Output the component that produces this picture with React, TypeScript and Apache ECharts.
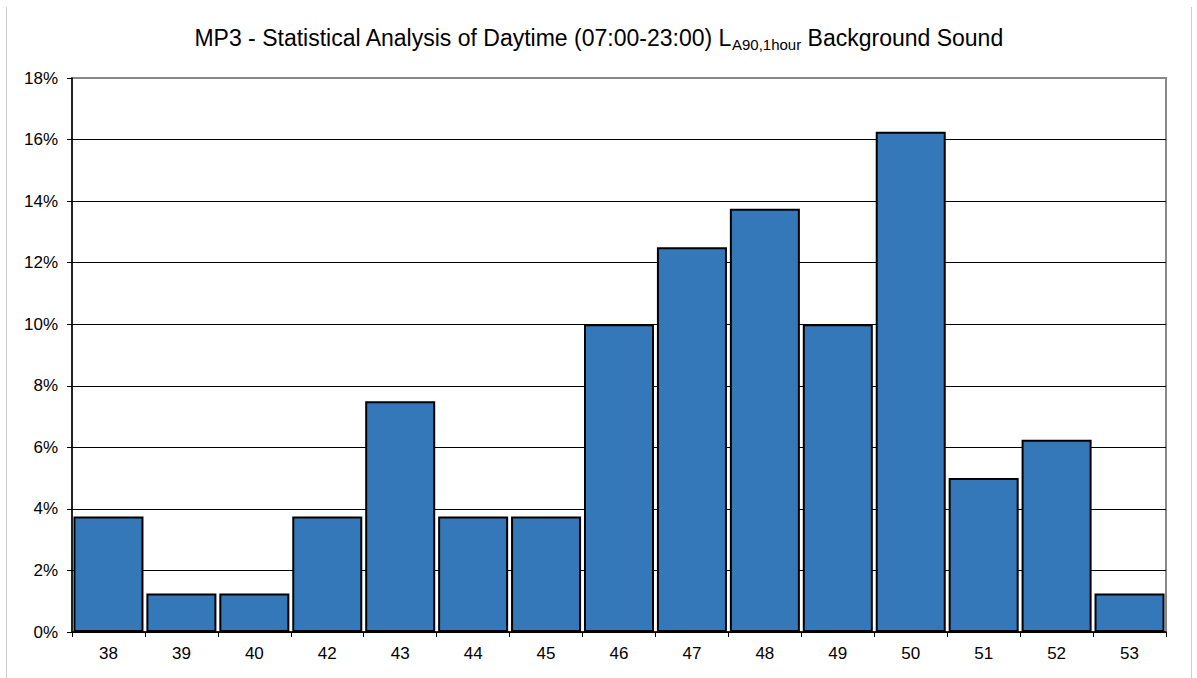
import React, { useEffect, useRef } from "react";
import * as echarts from "echarts";

const categories = ["38", "39", "40", "42", "43", "44", "45", "46", "47", "48", "49", "50", "51", "52", "53"];
const percentValues = [3.75, 1.25, 1.25, 3.75, 7.5, 3.75, 3.75, 10, 12.5, 13.75, 10, 16.25, 5, 6.25, 1.25];
const yTicks = [0, 2, 4, 6, 8, 10, 12, 14, 16, 18];

export default function App() {
  const ref = useRef<HTMLDivElement>(null);
  useEffect(() => {
    document.body.style.margin = "0";
    const chart = echarts.init(ref.current!, null, { renderer: "svg" });
    const font = "'Liberation Sans', Arial, sans-serif";
    const labelText = { fontSize: 17, color: "#000", fontFamily: font };
    chart.setOption({
      animation: false,
      backgroundColor: "#ffffff",
      textStyle: { fontFamily: font },
      title: {
        text: "{m|MP3 - Statistical Analysis of Daytime (07:00-23:00) L}{s|A90,1hour}{m| Background Sound}",
        left: "center",
        top: 17,
        textStyle: {
          fontWeight: "normal",
          rich: {
            m: { fontSize: 23, color: "#000", fontFamily: font, fontWeight: "normal", verticalAlign: "bottom", lineHeight: 27 },
            s: { fontSize: 15, color: "#000", fontFamily: font, fontWeight: "normal", verticalAlign: "bottom", lineHeight: 27, padding: [0, 0, -3, 0] },
          },
        },
      },
      graphic: [
        { type: "line", shape: { x1: 6.5, y1: 7, x2: 6.5, y2: 678 }, style: { stroke: "#d0d0d0", lineWidth: 1 } },
        { type: "line", shape: { x1: 1191.5, y1: 7, x2: 1191.5, y2: 678 }, style: { stroke: "#d0d0d0", lineWidth: 1 } },
      ],
      grid: {
        left: 72,
        right: 31,
        top: 78,
        bottom: 46,
        show: true,
        borderColor: "#888",
        borderWidth: 2,
        backgroundColor: "transparent",
      },
      xAxis: {
        type: "category",
        data: categories,
        boundaryGap: true,
        axisLine: { show: true, lineStyle: { color: "#000", width: 1.5 } },
        axisTick: { show: true, alignWithLabel: false, length: 5, lineStyle: { color: "#000" } },
        axisLabel: {
          ...labelText,
          margin: 13,
          formatter: (v: string) => "{a|" + v + "}",
          rich: { a: labelText },
        },
      },
      yAxis: {
        type: "value",
        min: 0,
        max: 18,
        interval: 2,
        axisLine: { show: true, lineStyle: { color: "#000", width: 1.5 } },
        axisTick: { show: true, length: 5, lineStyle: { color: "#000" } },
        axisLabel: {
          ...labelText,
          margin: 14,
          formatter: (v: number) => "{a|" + v + "%}",
          rich: { a: labelText },
        },
        splitLine: {
          show: true,
          lineStyle: { color: yTicks.map((t) => (t === 18 ? "#888" : "#000")), width: 1 },
        },
      },
      series: [
        {
          type: "bar",
          data: percentValues,
          barCategoryGap: "4%",
          itemStyle: { color: "#3578BA", borderColor: "#000", borderWidth: 2 },
        },
      ],
    });
    return () => chart.dispose();
  }, []);
  return <div ref={ref} style={{ width: 1197, height: 678 }} />;
}
